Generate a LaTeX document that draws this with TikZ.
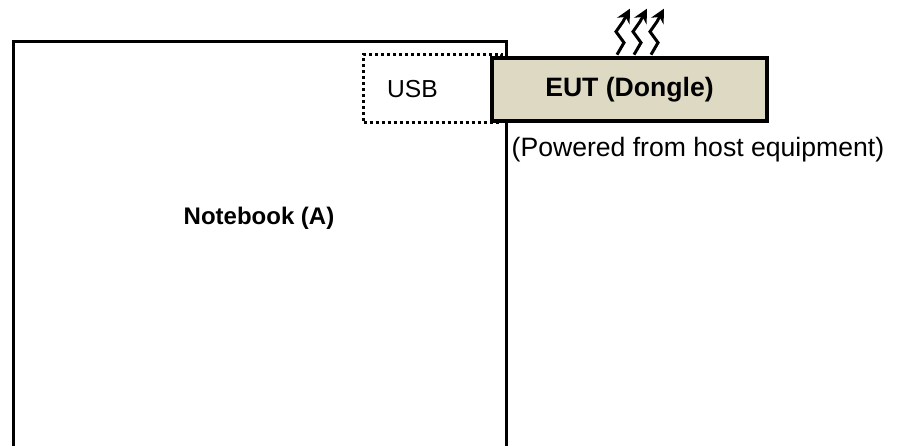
\documentclass[tikz,border=0pt]{standalone}
\usepackage{fontspec}
\setmainfont{Liberation Sans}
\usetikzlibrary{positioning, arrows.meta}
\definecolor{dongle}{HTML}{DDD9C3}
\tikzset{
	box/.style={draw, line width=1.75pt, inner sep=0pt},
	portbox/.style={draw, line width=1.5pt, dash pattern=on 1.5pt off 1.5pt, inner sep=0pt},
	txt/.style={font=\fontsize{12.3}{14}\selectfont, inner sep=0pt},
	bigtxt/.style={font=\fontsize{13.3}{15}\selectfont, inner sep=0pt},
	wave/.style={line width=1.5pt, -{Stealth[length=7pt,width=7pt]}}
}
\begin{document}
\begin{tikzpicture}[x=0.5pt, y=-0.5pt]
	\useasboundingbox (0,0) rectangle (899,445);
	\clip (0,0) rectangle (899,445);

		% host %
		\node[box, minimum width=246.5pt, minimum height=219.25pt] (nb) at (260,260.75) {};
		\node[txt, font=\fontsize{12}{14}\selectfont\bfseries] (nblabel) at (259,218) {Notebook (A)};

		% port %
		\node[portbox, minimum width=69pt, minimum height=34pt] (usb) at (432.5,88) {};
		\node[txt] (usblabel) at (412.5,89) {USB};

		% dongle %
		\node[box, fill=dongle, minimum width=137.5pt, minimum height=31.5pt] (eut) at (629.5,89.5) {};
		\node[bigtxt, font=\fontsize{13.3}{15}\selectfont\bfseries] (eutlabel) at (eut.center) {EUT (Dongle)};
		\node[bigtxt, below right=7pt and 10.5pt of eut.south west] (pw) {(Powered from host equipment)};

		% emission %
		\foreach \dx in {-12.5, 4.5, 21.5}
			\draw[wave] ([xshift=\dx*0.5pt, yshift=0.8pt]eut.north) -- ++(7,-12) -- ++(-8,-11) -- ++(7,-10) -- ++(7,-13);

\end{tikzpicture}
\end{document}
